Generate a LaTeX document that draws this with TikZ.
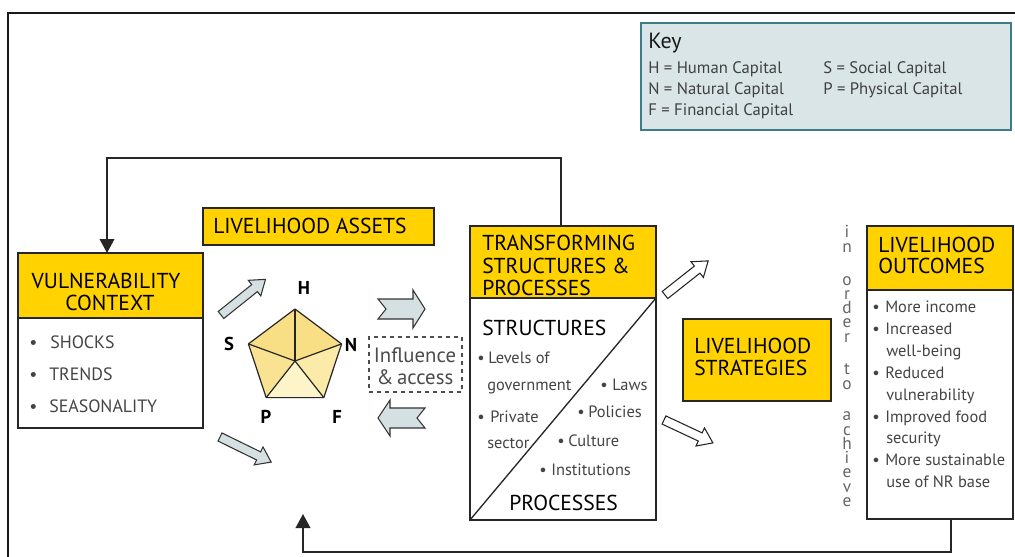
\documentclass[tikz,border=0pt]{standalone}
\usepackage{fontspec}
\setmainfont{PT Sans}
\usetikzlibrary{arrows.meta,calc}
\definecolor{gold}{HTML}{FFD200}
\definecolor{keyfill}{HTML}{DAE5E7}
\definecolor{keyline}{HTML}{3E7C89}
\definecolor{arrfill}{HTML}{D5E0E2}
\definecolor{txtgrey}{HTML}{444444}
\definecolor{pentA}{HTML}{F8DE85}
\definecolor{pentB}{HTML}{F9E393}
\definecolor{pentC}{HTML}{FCEBA8}
\definecolor{pentD}{HTML}{FEF4C9}
\begin{document}
\begin{tikzpicture}[x=0.75pt,y=-0.75pt,
  box/.style={draw=black!85, line width=1pt, inner sep=0pt, outer sep=0pt, anchor=north west},
  hbox/.style={box, fill=gold},
  hd/.style={font=\fontsize{16.2}{18}\selectfont, text=black, inner sep=0pt, anchor=base west},
  hdc/.style={hd, anchor=base},
  itm/.style={font=\fontsize{12.3}{14}\selectfont, text=txtgrey, inner sep=0pt, anchor=base west},
  vit/.style={font=\fontsize{13.4}{16}\selectfont, text=txtgrey, inner sep=0pt, anchor=base west},
  keyt/.style={font=\fontsize{12.5}{14}\selectfont, text=black!75, inner sep=0pt, anchor=base west},
  pl/.style={font=\bfseries\fontsize{14}{16}\selectfont, inner sep=0pt, anchor=center},
  vl/.style={font=\fontsize{13}{10.7}\selectfont, text=black!60, inner sep=0pt, align=center},
  garrow/.style={fill=arrfill, draw=black!80, line width=0.8pt, line join=miter},
  warrow/.style={fill=white, draw=black!85, line width=0.8pt, line join=miter},
  fb/.style={draw=black!85, line width=1.2pt, -{Triangle[length=10.5pt,width=11pt]}}
]
\useasboundingbox (0,0) rectangle (1015,557);
\fill[white] (0,0) rectangle (1015,557);
% frame
\draw[line width=1.5pt, black!90] (8,557) -- (8,13) -- (1015,13);

% key
\node[box, draw=keyline, line width=1.5pt, fill=keyfill, minimum width=277.5pt, minimum height=80.25pt] (key) at (641,23) {};
\node[keyt, font=\fontsize{16.5}{18}\selectfont, text=black!90] (keyh) at (648,48) {Key};
\node[keyt] (k1) at (648,73) {H = Human Capital};
\node[keyt] (k2) at (823,73) {S = Social Capital};
\node[keyt] (k3) at (648,94) {N = Natural Capital};
\node[keyt] (k4) at (823,94) {P = Physical Capital};
\node[keyt] (k5) at (648,115) {F = Financial Capital};

% vulnerability context
\node[hbox, minimum width=138.75pt, minimum height=48.75pt] (vch) at (18,253) {};
\node[box, minimum width=138.75pt, minimum height=82.5pt] (vcb) at (18,318) {};
\node[hdc] (vct1) at (106,288) {VULNERABILITY};
\node[hdc] (vct2) at (110,310) {CONTEXT};
\node[vit] (vb1) at (29,348) {•};
\node[vit] (vi1) at (50,348) {SHOCKS};
\node[vit] (vb2) at (29,380) {•};
\node[vit] (vi2) at (49,380) {TRENDS};
\node[vit] (vb3) at (29,412) {•};
\node[vit] (vi3) at (49,412) {SEASONALITY};

% livelihood assets
\node[hbox, minimum width=173.25pt, minimum height=27.75pt] (la) at (203,208) {};
\node[hd] (lat) at (213,233) {LIVELIHOOD ASSETS};

% pentagon
\coordinate (pc) at (295,361);
\coordinate (pH) at (295,309);
\coordinate (pN) at (341.6,343.9);
\coordinate (pF) at (323.8,397.6);
\coordinate (pP) at (266.2,397.6);
\coordinate (pS) at (248.4,343.9);
\fill[pentA] (pc) -- (pS) -- (pH) -- (pN) -- cycle;
\fill[pentB] (pc) -- (pS) -- (pP) -- cycle;
\fill[pentC] (pc) -- (pN) -- (pF) -- cycle;
\fill[pentD] (pc) -- (pP) -- (pF) -- cycle;
\draw[line width=0.9pt, black!85, line join=round] (pH) -- (pN) -- (pF) -- (pP) -- (pS) -- cycle;
\foreach \v in {pH,pN,pF,pP,pS} \draw[line width=0.9pt, black!85] (pc) -- (\v);
\node[pl] (lH) at (304,288) {H};
\node[pl] (lS) at (229,344) {S};
\node[pl] (lN) at (351,345) {N};
\node[pl] (lP) at (266,417) {P};
\node[pl] (lF) at (337,417) {F};

% grey diagonal arrows
\begin{scope}[shift={(221,315)}, rotate=38.7]
  \draw[garrow] (0,-4.5) -- (43,-4.5) -- (43,-10) -- (57,0) -- (43,10) -- (43,4.5) -- (0,4.5) -- cycle;
\end{scope}
\begin{scope}[shift={(220,437)}, rotate=-26.1]
  \draw[garrow] (0,-4.5) -- (43,-4.5) -- (43,-10) -- (57,0) -- (43,10) -- (43,4.5) -- (0,4.5) -- cycle;
\end{scope}
% chevron arrows
\begin{scope}[shift={(378,309)}]
  \draw[garrow] (0,-10) -- (35,-10) -- (35,-19) -- (47,0) -- (35,19) -- (35,10) -- (0,10) -- (8,0) -- cycle;
\end{scope}
\begin{scope}[shift={(425,418)}, xscale=-1]
  \draw[garrow] (0,-10) -- (35,-10) -- (35,-18) -- (47,0) -- (35,18) -- (35,10) -- (0,10) -- (8,0) -- cycle;
\end{scope}

% influence & access
\node[box, draw=black!70, dashed, line width=0.9pt, minimum width=69.75pt, minimum height=41.25pt] (ia) at (369,337) {};
\node[font=\fontsize{15.6}{18}\selectfont, text=black!70, inner sep=0pt, anchor=base] (ia1) at (415,362) {Influence};
\node[font=\fontsize{15.6}{18}\selectfont, text=black!70, inner sep=0pt, anchor=base] (ia2) at (415,384) {\&\,access};

% transforming structures & processes
\node[hbox, minimum width=139.5pt, minimum height=54pt] (tsph) at (470,226) {};
\node[box, minimum width=139.5pt, minimum height=166.5pt] (tspb) at (470,298) {};
\draw[line width=1pt, black!85] (tspb.south west) -- (tspb.north east);
\node[hd] (t1) at (482,250) {TRANSFORMING};
\node[hd] (t2) at (482,273) {STRUCTURES \&};
\node[hd] (t3) at (482,295) {PROCESSES};
\node[hd] (st) at (482,335) {STRUCTURES};
\node[itm] (s1b) at (477,363) {•};
\node[itm] (s1) at (488,363) {Levels of};
\node[itm] (s1c) at (487,390) {government};
\node[itm] (s2b) at (477,422) {•};
\node[itm] (s2) at (490,422) {Private};
\node[itm] (s2c) at (487,448) {sector};
\node[itm] (p1b) at (600,390) {•};
\node[itm] (p1) at (612,390) {Laws};
\node[itm] (p2b) at (577,417) {•};
\node[itm] (p2) at (588,417) {Policies};
\node[itm] (p3b) at (557,446) {•};
\node[itm] (p3) at (568,446) {Culture};
\node[itm] (p4b) at (539,475) {•};
\node[itm] (p4) at (551,475) {Institutions};
\node[hd] (pr) at (509,510) {PROCESSES};

% white arrows
\begin{scope}[shift={(665,295)}, rotate=38.3]
  \draw[warrow] (0,-4.5) -- (41,-4.5) -- (41,-10) -- (55,0) -- (41,10) -- (41,4.5) -- (0,4.5) -- cycle;
\end{scope}
\begin{scope}[shift={(664,420)}, rotate=-25.1]
  \draw[warrow] (0,-4.5) -- (40,-4.5) -- (40,-10) -- (54,0) -- (40,10) -- (40,4.5) -- (0,4.5) -- cycle;
\end{scope}

% livelihood strategies
\node[hbox, minimum width=111pt, minimum height=61.5pt] (ls) at (683,319) {};
\node[hd] (ls1) at (694,353) {LIVELIHOOD};
\node[hd] (ls2) at (694,375) {STRATEGIES};

% in order to achieve (stacked letters)
\node[vl, anchor=south] (ota) at (847,507) {i\\n\\[13.9pt]o\\r\\d\\e\\r\\[13.9pt]t\\o\\[13.1pt]a\\c\\h\\i\\e\\v\\e};

% livelihood outcomes
\node[hbox, minimum width=109.5pt, minimum height=48pt] (loh) at (867,226) {};
\node[box, minimum width=109.5pt, minimum height=171.75pt] (lob) at (867,290) {};
\node[hd] (lo1) at (878,252) {LIVELIHOOD};
\node[hd] (lo2) at (878,273) {OUTCOMES};
\node[itm] (ob1) at (872,312) {•};
\node[itm] (o1) at (885,312) {More income};
\node[itm] (ob2) at (872,334) {•};
\node[itm] (o2) at (885,334) {Increased};
\node[itm] (o2c) at (886,356) {well-being};
\node[itm] (ob3) at (872,378) {•};
\node[itm] (o3) at (885,378) {Reduced};
\node[itm] (o3c) at (886,400) {vulnerability};
\node[itm] (ob4) at (872,422) {•};
\node[itm] (o4) at (885,422) {Improved food};
\node[itm] (o4c) at (886,443) {security};
\node[itm] (ob5) at (872,465) {•};
\node[itm] (o5) at (885,465) {More sustainable};
\node[itm] (o5c) at (886,487) {use of NR base};

% feedback connectors
\draw[fb] ([xshift=-1.5pt]tsph.north) -- ++(0,-68) -| ([xshift=-2.6pt]vch.north);
\coordinate (fbx) at (951,0);
\coordinate (fbb) at (0,552);
\coordinate (fbt) at (303,514);
\draw[fb] (lob.south -| fbx) -- (fbx |- fbb) -| (fbt);
\end{tikzpicture}
\end{document}
